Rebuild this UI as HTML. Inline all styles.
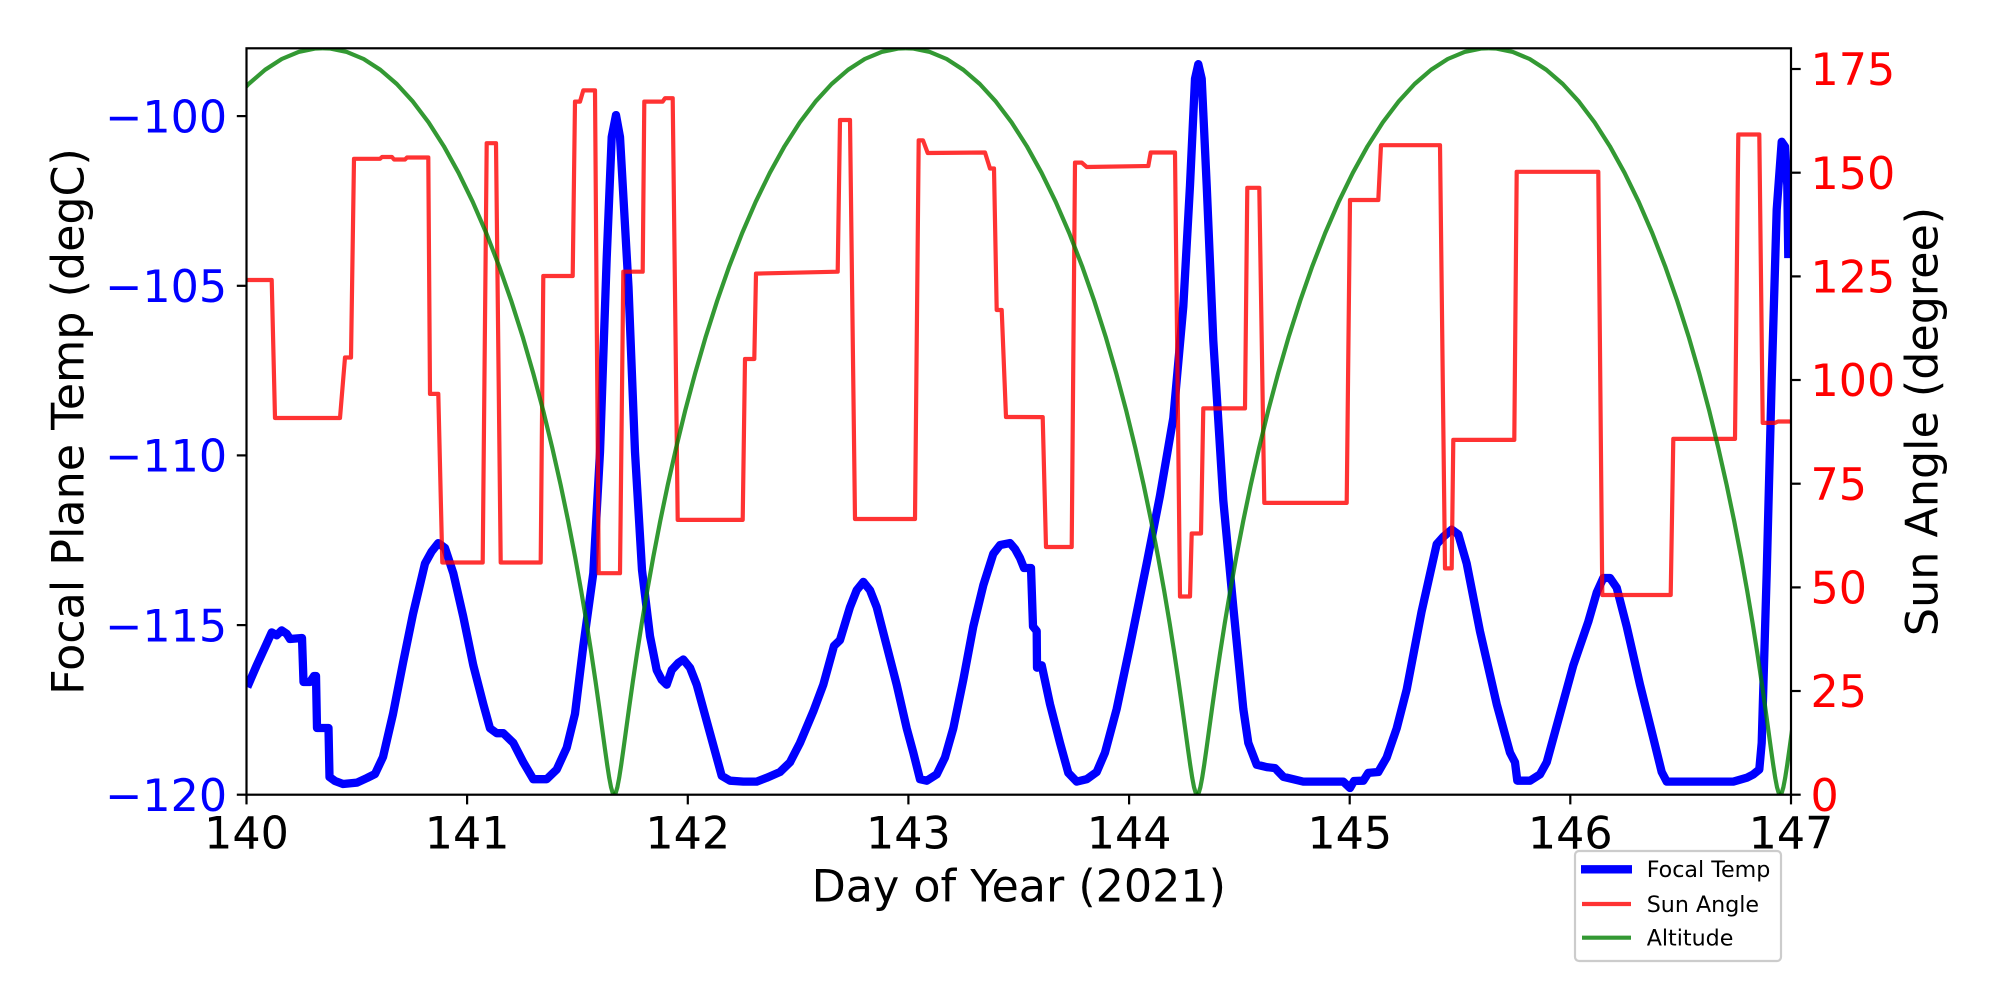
<!DOCTYPE html>
<html><head><meta charset="utf-8"><style>
html,body{margin:0;padding:0;background:#fff;}
svg{display:block;}
text{font-family:"DejaVu Sans","Liberation Sans",sans-serif;}
</style></head><body>
<svg width="2000" height="1000" viewBox="0 0 2000 1000" xmlns="http://www.w3.org/2000/svg">
<rect x="0" y="0" width="2000" height="1000" fill="#fff"/>
<defs><clipPath id="cp"><rect x="246.5" y="48.3" width="1544.5" height="746.4"/></clipPath></defs>
<g clip-path="url(#cp)" fill="none" stroke-linejoin="round">
<polyline stroke="#0000ff" stroke-width="8.3" points="247.3,687.1 256.7,665.3 266.7,643.5 271.7,632.4 276.7,635.3 281.7,630.4 286.7,633.8 290,639 302,638 303.5,682 310,682 314,676 316,676 317,728 328.5,728 329.5,777 335,781 343,784 357,782.6 367,778 375,774 383,757 393,714 403,663 413,614 425,563.5 431.7,551.4 438.3,543.1 445,548 453.3,573.2 463.3,616.8 473.3,665.3 483.3,704.1 490,728.3 496.7,733.2 503.3,733.2 513.3,742.9 523.3,762.3 533.3,779.2 546.7,779.2 556.7,769.5 566.7,747.7 575,713.8 583.3,645.9 593.3,573.2 600,452 606.7,258.1 611.7,137 616,115.1 620,137 628.5,287 635,452 642,570 650,636.2 656.7,670.1 661.7,679.8 666.7,684.7 671.7,670.1 678.3,662.9 683.3,659.5 690,667.7 696.7,684.7 710,733.2 721.7,775.8 730,780.7 743.3,781.6 756.7,781.6 766.7,777.8 780,772 790,762.3 800,742.9 813.3,711.4 823.3,684.7 834,645.9 840,640.1 850,607.1 856.7,590.2 863.3,581.9 870,590.2 876.7,607.1 886.7,645.9 896.7,684.7 906.7,728.3 913.3,752.6 920,779.2 926.7,780.7 936.7,774.4 945,757.4 953.3,728.3 963.3,679.8 973.3,626.5 983.3,585.3 993.3,553.8 1000,545.1 1010,543.1 1015,548.9 1020,558 1024,568 1031,568 1033,626.5 1036.7,631 1037,667.7 1041.7,665.3 1050,704.1 1060,742.9 1068.3,772.9 1076.7,781.6 1086.7,779.2 1096.7,772 1105,752.6 1116.7,708.9 1130,645.9 1146.7,563.5 1160,495.6 1173.3,418.1 1183.3,306.6 1190,185.4 1195,78.8 1198.3,64.2 1201.7,78.8 1206.7,185.4 1213.3,340.5 1223.3,500.5 1233.3,607.1 1243.3,708.9 1248.3,742.9 1256.7,764.7 1266.7,767.1 1275,768.1 1283.3,776.8 1303.3,781.6 1343.3,781.6 1350,788 1354,781 1363.3,780.7 1368.3,772.9 1378.3,772 1386.7,757.4 1396.7,728.3 1406.7,689.5 1421.5,612 1436.7,544.1 1443.3,536.8 1451.7,529.6 1458.3,534.4 1466.7,563.5 1480,631.4 1496.7,704.1 1510,752.6 1515,762.3 1517.3,780.7 1530,780.7 1540,774.4 1546.7,762.3 1560,713.8 1573.3,665.3 1588.3,621.7 1596.7,592.6 1603.3,578 1610,578 1616.7,587.7 1626.7,626.5 1640,684.7 1653.3,738 1661.7,772 1666.7,781.6 1683.3,781.6 1733.3,781.6 1746.7,777.8 1753.3,774.4 1759.3,769.5 1761.7,742.9 1766.7,573.2 1771.7,379.3 1776.7,209.7 1781.7,141.8 1785,146.6 1787.3,185.4 1788.3,258.1"/>
<polyline stroke="#ff0000" stroke-opacity="0.8" stroke-width="4.2" points="246.5,280 271.7,280 275,418 340,418 345,357.5 351,357.5 354,158.8 380,158.8 382,157 392,157 394,159.5 405,159.5 407,157.5 428.3,157.5 430,393.9 438.3,393.9 442.3,562.5 482.7,562.5 486.7,143.2 496,143.2 500.7,562.5 540.7,562.5 543.3,276 572.7,276 575,101.6 580,101.6 583.3,90.4 595,90.4 598.7,573.2 620,573.2 623.3,271.7 642.7,271.7 644.3,101.6 662.7,101.6 665,98.2 672.7,98.2 677.7,519.9 742.7,519.9 745,359 754.3,359 756,273.6 837.7,271.7 840,120 850,120 855,519 915,519 918.7,140.3 923,140.3 927.7,153 985,152.5 990,168.5 994,168.5 996.7,310 1001.7,310 1006,417 1042.7,417.1 1046,547 1071.7,547 1075,162.6 1081.7,162.6 1086.7,167 1148.3,166 1150.7,152.5 1175,152.5 1180,596.5 1190,596.5 1191.7,533.5 1201,533.5 1203.3,408.4 1245,408.4 1247.3,187.8 1259.3,187.8 1264.3,502.9 1346.7,502.9 1350,200 1378.3,200 1381,145.2 1440,145.2 1445,568.4 1451.7,568.4 1453.3,439.9 1514.3,439.9 1516.7,171.8 1598.3,171.8 1602.3,595 1670.7,595 1673.3,438.9 1735,438.9 1738.3,134.5 1759.3,134.5 1762.7,422.9 1775,422.9 1778,421.5 1792,421.5"/>
<g stroke="#008000" stroke-opacity="0.8" stroke-width="4.2">
<path transform="translate(31.2,794.7)" d="M0,0 L1.54,-1.87 L3.17,-7.44 L4.94,-16.67 L6.94,-29.46 L9.25,-45.69 L11.93,-65.19 L15.04,-87.77 L18.65,-113.2 L22.82,-141.2 L27.59,-171.6 L33.02,-203.9 L39.13,-238 L45.97,-273.4 L53.55,-309.8 L61.9,-346.8 L71.02,-384.2 L80.91,-421.3 L91.57,-458.1 L102.98,-493.9 L115.13,-528.6 L127.98,-561.7 L141.5,-592.9 L155.64,-621.9 L170.36,-648.5 L185.61,-672.3 L201.31,-693.1 L217.42,-710.7 L233.86,-724.9 L250.55,-735.7 L267.44,-742.8 L284.43,-746.2 L291.5,-746.4"/>
<path transform="translate(614.2,794.7) scale(-1,1)" d="M0,0 L1.54,-1.87 L3.17,-7.44 L4.94,-16.67 L6.94,-29.46 L9.25,-45.69 L11.93,-65.19 L15.04,-87.77 L18.65,-113.2 L22.82,-141.2 L27.59,-171.6 L33.02,-203.9 L39.13,-238 L45.97,-273.4 L53.55,-309.8 L61.9,-346.8 L71.02,-384.2 L80.91,-421.3 L91.57,-458.1 L102.98,-493.9 L115.13,-528.6 L127.98,-561.7 L141.5,-592.9 L155.64,-621.9 L170.36,-648.5 L185.61,-672.3 L201.31,-693.1 L217.42,-710.7 L233.86,-724.9 L250.55,-735.7 L267.44,-742.8 L284.43,-746.2 L291.5,-746.4"/>
<path transform="translate(614.2,794.7)" d="M0,0 L1.54,-1.87 L3.17,-7.44 L4.94,-16.67 L6.94,-29.46 L9.25,-45.69 L11.93,-65.19 L15.04,-87.77 L18.65,-113.2 L22.82,-141.2 L27.59,-171.6 L33.02,-203.9 L39.13,-238 L45.97,-273.4 L53.55,-309.8 L61.9,-346.8 L71.02,-384.2 L80.91,-421.3 L91.57,-458.1 L102.98,-493.9 L115.13,-528.6 L127.98,-561.7 L141.5,-592.9 L155.64,-621.9 L170.36,-648.5 L185.61,-672.3 L201.31,-693.1 L217.42,-710.7 L233.86,-724.9 L250.55,-735.7 L267.44,-742.8 L284.43,-746.2 L291.5,-746.4"/>
<path transform="translate(1197.2,794.7) scale(-1,1)" d="M0,0 L1.54,-1.87 L3.17,-7.44 L4.94,-16.67 L6.94,-29.46 L9.25,-45.69 L11.93,-65.19 L15.04,-87.77 L18.65,-113.2 L22.82,-141.2 L27.59,-171.6 L33.02,-203.9 L39.13,-238 L45.97,-273.4 L53.55,-309.8 L61.9,-346.8 L71.02,-384.2 L80.91,-421.3 L91.57,-458.1 L102.98,-493.9 L115.13,-528.6 L127.98,-561.7 L141.5,-592.9 L155.64,-621.9 L170.36,-648.5 L185.61,-672.3 L201.31,-693.1 L217.42,-710.7 L233.86,-724.9 L250.55,-735.7 L267.44,-742.8 L284.43,-746.2 L291.5,-746.4"/>
<path transform="translate(1197.2,794.7)" d="M0,0 L1.54,-1.87 L3.17,-7.44 L4.94,-16.67 L6.94,-29.46 L9.25,-45.69 L11.93,-65.19 L15.04,-87.77 L18.65,-113.2 L22.82,-141.2 L27.59,-171.6 L33.02,-203.9 L39.13,-238 L45.97,-273.4 L53.55,-309.8 L61.9,-346.8 L71.02,-384.2 L80.91,-421.3 L91.57,-458.1 L102.98,-493.9 L115.13,-528.6 L127.98,-561.7 L141.5,-592.9 L155.64,-621.9 L170.36,-648.5 L185.61,-672.3 L201.31,-693.1 L217.42,-710.7 L233.86,-724.9 L250.55,-735.7 L267.44,-742.8 L284.43,-746.2 L291.5,-746.4"/>
<path transform="translate(1780.2,794.7) scale(-1,1)" d="M0,0 L1.54,-1.87 L3.17,-7.44 L4.94,-16.67 L6.94,-29.46 L9.25,-45.69 L11.93,-65.19 L15.04,-87.77 L18.65,-113.2 L22.82,-141.2 L27.59,-171.6 L33.02,-203.9 L39.13,-238 L45.97,-273.4 L53.55,-309.8 L61.9,-346.8 L71.02,-384.2 L80.91,-421.3 L91.57,-458.1 L102.98,-493.9 L115.13,-528.6 L127.98,-561.7 L141.5,-592.9 L155.64,-621.9 L170.36,-648.5 L185.61,-672.3 L201.31,-693.1 L217.42,-710.7 L233.86,-724.9 L250.55,-735.7 L267.44,-742.8 L284.43,-746.2 L291.5,-746.4"/>
<path transform="translate(1780.2,794.7)" d="M0,0 L1.54,-1.87 L3.17,-7.44 L4.94,-16.67 L6.94,-29.46 L9.25,-45.69 L11.93,-65.19 L15.04,-87.77 L18.65,-113.2 L22.82,-141.2 L27.59,-171.6"/>
</g>
</g>
<!-- spines -->
<rect x="246.5" y="48.3" width="1544.5" height="746.4" fill="none" stroke="#000" stroke-width="2.2"/>
<!-- x ticks -->
<g stroke="#000" stroke-width="2.2">
<line x1="246.5" y1="794.7" x2="246.5" y2="804.4"/>
<line x1="467.1" y1="794.7" x2="467.1" y2="804.4"/>
<line x1="687.8" y1="794.7" x2="687.8" y2="804.4"/>
<line x1="908.4" y1="794.7" x2="908.4" y2="804.4"/>
<line x1="1129.1" y1="794.7" x2="1129.1" y2="804.4"/>
<line x1="1349.7" y1="794.7" x2="1349.7" y2="804.4"/>
<line x1="1570.3" y1="794.7" x2="1570.3" y2="804.4"/>
<line x1="1791" y1="794.7" x2="1791" y2="804.4"/>
<line x1="236.8" y1="116.1" x2="246.5" y2="116.1"/>
<line x1="236.8" y1="285.8" x2="246.5" y2="285.8"/>
<line x1="236.8" y1="455.4" x2="246.5" y2="455.4"/>
<line x1="236.8" y1="625.1" x2="246.5" y2="625.1"/>
<line x1="236.8" y1="794.7" x2="246.5" y2="794.7"/>
<line x1="1791" y1="69" x2="1800.7" y2="69"/>
<line x1="1791" y1="172.7" x2="1800.7" y2="172.7"/>
<line x1="1791" y1="276.4" x2="1800.7" y2="276.4"/>
<line x1="1791" y1="380" x2="1800.7" y2="380"/>
<line x1="1791" y1="483.7" x2="1800.7" y2="483.7"/>
<line x1="1791" y1="587.4" x2="1800.7" y2="587.4"/>
<line x1="1791" y1="691" x2="1800.7" y2="691"/>
<line x1="1791" y1="794.7" x2="1800.7" y2="794.7"/>
</g>
<g font-size="44.4" fill="#000" text-anchor="middle">
<text x="246.5" y="848.3">140</text>
<text x="467.1" y="848.3">141</text>
<text x="687.8" y="848.3">142</text>
<text x="908.4" y="848.3">143</text>
<text x="1129.1" y="848.3">144</text>
<text x="1349.7" y="848.3">145</text>
<text x="1570.3" y="848.3">146</text>
<text x="1791" y="848.3">147</text>
<text x="1018.75" y="901.7">Day of Year (2021)</text>
</g>
<g font-size="44.4" fill="#0000ff" text-anchor="end">
<text x="227.1" y="132.3">−100</text>
<text x="227.1" y="302">−105</text>
<text x="227.1" y="471.6">−110</text>
<text x="227.1" y="641.3">−115</text>
<text x="227.1" y="810.9">−120</text>
</g>
<g font-size="44.4" fill="#ff0000" text-anchor="start">
<text x="1810.5" y="85.2">175</text>
<text x="1810.5" y="188.9">150</text>
<text x="1810.5" y="292.6">125</text>
<text x="1810.5" y="396.2">100</text>
<text x="1810.5" y="499.9">75</text>
<text x="1810.5" y="603.6">50</text>
<text x="1810.5" y="707.2">25</text>
<text x="1810.5" y="810.9">0</text>
</g>
<text font-size="44.4" fill="#000" text-anchor="middle" transform="translate(83.3,421.5) rotate(-90)">Focal Plane Temp (degC)</text>
<text font-size="44.4" fill="#000" text-anchor="middle" transform="translate(1937.5,421.5) rotate(-90)">Sun Angle (degree)</text>
<!-- legend -->
<rect x="1575" y="851" width="206" height="110" rx="4" ry="4" fill="#fff" fill-opacity="0.8" stroke="#cccccc" stroke-width="2.2"/>
<line x1="1581" y1="869.3" x2="1632" y2="869.3" stroke="#0000ff" stroke-width="8.3"/>
<line x1="1582" y1="904" x2="1631" y2="904" stroke="#ff0000" stroke-opacity="0.8" stroke-width="4.2"/>
<line x1="1582" y1="937.7" x2="1631" y2="937.7" stroke="#008000" stroke-opacity="0.8" stroke-width="4.2"/>
<g font-size="22.2" fill="#000">
<text x="1646.7" y="877.2">Focal Temp</text>
<text x="1646.7" y="911.9">Sun Angle</text>
<text x="1646.7" y="945.6">Altitude</text>
</g>
</svg>
</body></html>
